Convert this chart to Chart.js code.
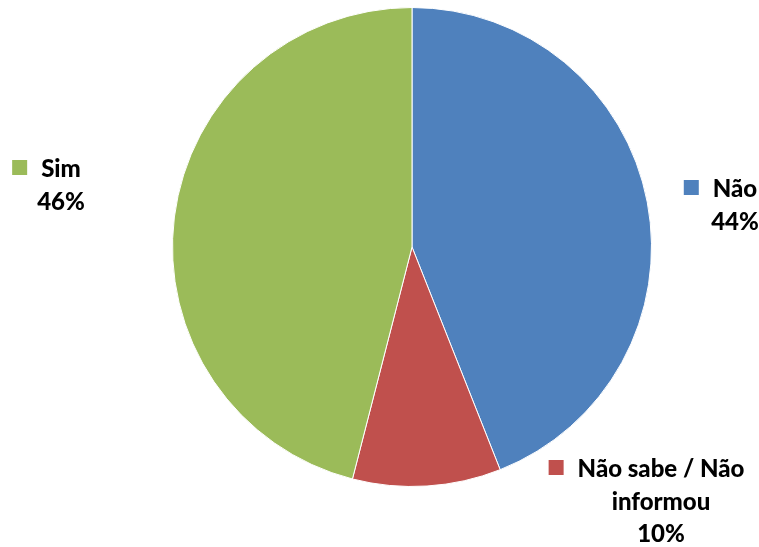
<!DOCTYPE html>
<html>
<head>
<meta charset="utf-8">
<script src="https://cdn.jsdelivr.net/npm/chart.js@4"></script>
<style>
  html, body { margin: 0; padding: 0; background: #fff; }
  #grafico { display: block; }
</style>
</head>
<body>
<canvas id="grafico" width="759" height="547"></canvas>
<script>
// dados
const categorias = ['Não', 'Não sabe / Não informou', 'Sim'];
const valores = [44, 10, 46];
const cores = ['#4F81BD', '#C0504D', '#9BBB59'];

// posicao dos rotulos (centro do texto, linha de base da primeira linha)
const posRotulos = [
    { x: 735, y: 197 },
    { x: 661, y: 477 },
    { x: 61, y: 177 }
];
const FONTE = '900 24px Lato';
const ALTURA_LINHA = 32.5;

function quebrarTexto(ctx, texto, largMax) {
    const palavras = texto.split(' ');
    const linhas = [];
    let atual = '';
    palavras.forEach(p => {
        const teste = atual ? atual + ' ' + p : p;
        if (atual && ctx.measureText(teste).width > largMax) {
            linhas.push(atual);
            atual = p;
        } else {
            atual = teste;
        }
    });
    if (atual) linhas.push(atual);
    return linhas;
}

const rotulosPlugin = {
    id: 'rotulos',
    afterDraw(chart) {
        const ctx = chart.ctx;
        const ds = chart.data.datasets[0];
        ctx.save();
        ctx.font = FONTE;
        ctx.fillStyle = '#000';
        ctx.textAlign = 'center';
        ctx.textBaseline = 'alphabetic';
        chart.data.labels.forEach((lab, i) => {
            const pos = posRotulos[i];
            const linhas = quebrarTexto(ctx, lab, 185);
            linhas.push(ds.data[i] + '%');
            // marcador quadrado antes da primeira linha
            const w0 = ctx.measureText(linhas[0]).width;
            ctx.fillStyle = ds.backgroundColor[i];
            ctx.fillRect(pos.x - w0 / 2 - 14 - 15, pos.y - 17, 15, 15);
            ctx.fillStyle = '#000';
            linhas.forEach((l, j) => {
                ctx.fillText(l, pos.x, pos.y + j * ALTURA_LINHA);
            });
        });
        ctx.restore();
    }
};

new Chart(document.getElementById('grafico').getContext('2d'), {
    type: 'pie',
    data: {
        labels: categorias,
        datasets: [{
            data: valores,
            backgroundColor: cores,
            borderColor: '#ffffff',
            borderWidth: 1
        }]
    },
    options: {
        responsive: false,
        animation: false,
        layout: { padding: { left: 172, right: 107, top: 7, bottom: 60 } },
        plugins: {
            legend: { display: false },
            tooltip: { enabled: false }
        }
    },
    plugins: [rotulosPlugin]
});
</script>
</body>
</html>
